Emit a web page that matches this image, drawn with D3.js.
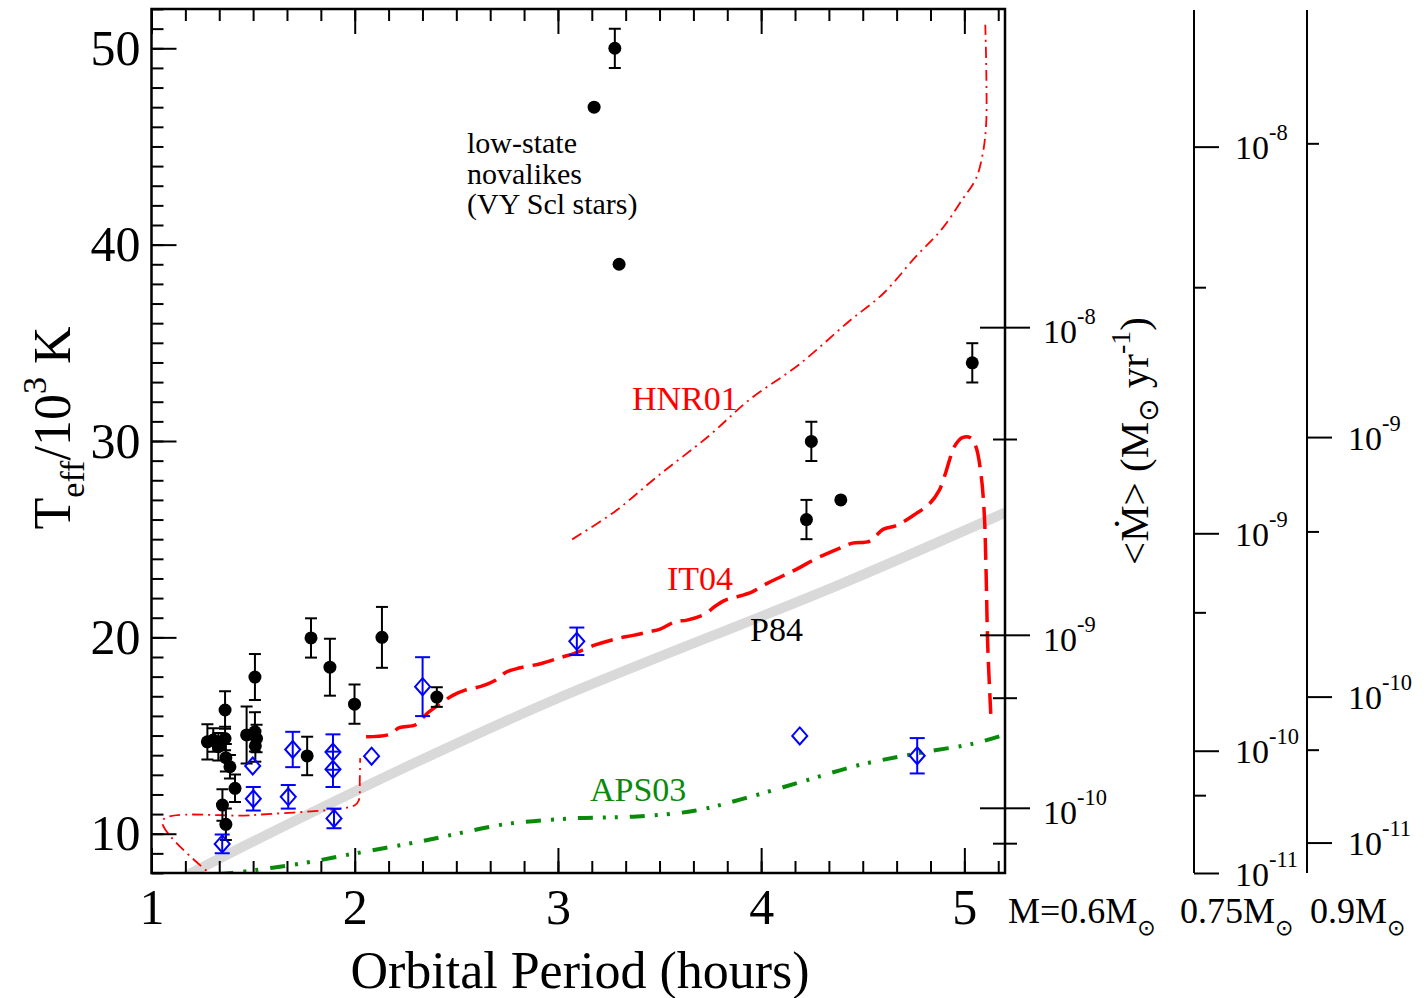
<!DOCTYPE html>
<html>
<head>
<meta charset="utf-8">
<script src="https://cdn.jsdelivr.net/npm/d3@7"></script>
<style>
  body { margin: 0; background: #fff; }
  svg { display: block; }
  text { font-family: "Liberation Serif", "Times New Roman", serif; fill: #000; }
</style>
</head>
<body>
<svg width="1427" height="998"></svg>
<script>
let width = 1427, height = 998;

// ---- data: [orbital period (h), Teff (10^3 K), error]
const blackPts = [
  [1.275, 14.68, 0.9], [1.304, 14.77, 0.6], [1.329, 14.43, 0.7], [1.362, 14.85, 0.6],
  [1.362, 16.3, 0.95], [1.366, 13.87, 0.7], [1.386, 13.41, 0.6], [1.411, 12.31, 0.7],
  [1.349, 11.46, 0.8], [1.366, 10.48, 0.8], [1.468, 15.03, 1.45], [1.509, 17.98, 1.17],
  [1.509, 15.19, 1.0], [1.517, 14.85, 0.7], [1.511, 14.47, 0.8], [1.766, 13.96, 0.98],
  [1.785, 19.97, 1.0], [1.878, 18.48, 1.45], [1.999, 16.6, 1.0], [2.134, 20.0, 1.55],
  [2.404, 16.96, 0.5], [3.178, 47.0, 0], [3.28, 50.0, 1.0], [3.301, 39.0, 0],
  [4.223, 26.0, 1.0], [4.247, 29.98, 1.0], [4.392, 27.0, 0], [5.039, 33.98, 1.0]
];
const bluePts = [
  [1.348, 9.48, 0.48], [1.498, 13.45, 0], [1.501, 11.78, 0.6], [1.673, 11.88, 0.6],
  [1.695, 14.29, 0.9], [1.893, 14.16, 0.9], [1.893, 13.28, 0.9], [1.898, 10.78, 0.5],
  [2.083, 13.95, 0], [2.334, 17.49, 1.5], [3.093, 19.8, 0.7], [4.19, 14.98, 0],
  [4.768, 13.97, 0.9]
];

// model curves [period, Teff]
const p84 = [[1.16, 7.8], [1.5, 9.6], [2.315, 13.7], [3.0, 16.9], [4.389, 22.7], [5.2, 26.35]];
const it04 = [
  [2.056, 14.94], [2.17, 15.05], [2.22, 15.4], [2.30, 15.55], [2.353, 16.1], [2.39, 16.4],
  [2.485, 17.06], [2.54, 17.3], [2.617, 17.49], [2.69, 17.8], [2.749, 18.25], [2.815, 18.45],
  [2.919, 18.67], [3.013, 18.97], [3.088, 19.21], [3.18, 19.6], [3.296, 19.95], [3.37, 20.1],
  [3.446, 20.28], [3.503, 20.42], [3.578, 20.8], [3.635, 20.88], [3.73, 21.22], [3.77, 21.56],
  [3.824, 21.9], [3.88, 22.06], [3.956, 22.32], [4.03, 22.75], [4.1, 23.1], [4.18, 23.5],
  [4.268, 24.0], [4.40, 24.6], [4.45, 24.8], [4.535, 24.9], [4.6, 25.5], [4.666, 25.7],
  [4.762, 26.3], [4.828, 26.8], [4.877, 27.5], [4.91, 28.45], [4.926, 29.0], [4.95, 29.7],
  [4.99, 30.17], [5.03, 30.17], [5.057, 29.7], [5.082, 28.3], [5.098, 26.3], [5.107, 23.3],
  [5.115, 19.6], [5.13, 16.1]
];
const hnr01Low = [[1.33, 7.6], [1.054, 10.65], [1.5, 10.95], [2.0, 11.45], [2.02, 11.7], [2.025, 12.8], [2.027, 13.85]];
const hnr01High = [
  [3.07, 24.99], [3.284, 26.44], [3.498, 28.27], [3.744, 30.27], [3.941, 32.09], [4.187, 33.9],
  [4.433, 36.1], [4.6, 37.5], [4.762, 39.4], [4.89, 40.8], [4.99, 42.3], [5.057, 43.36],
  [5.09, 44.6], [5.107, 46.1], [5.108, 48.8], [5.103, 51.2]
];
const aps03 = [
  [1.33, 7.95], [1.396, 8.0], [1.757, 8.52], [2.003, 9.0], [2.315, 9.59], [2.504, 10.0],
  [2.749, 10.5], [3.069, 10.78], [3.371, 10.87], [3.672, 11.17], [3.918, 11.8], [4.2, 12.65],
  [4.483, 13.5], [4.766, 14.09], [5.049, 14.6], [5.2, 15.05]
];

// tick labels
const periodLabels = [1, 2, 3, 4, 5];
const teffLabels = [10, 20, 30, 40, 50];

// right-hand accretion-rate axes
const massLabels = ["M=0.6M", "0.75M", "0.9M"];
const teffAtMdot9 = [20.13, 25.3, 30.2]; // Teff where <Mdot> = 1e-9 on each axis
const mdotMajor = [[1e-8, 1e-9, 1e-10], [1e-8, 1e-9, 1e-10, 1e-11], [1e-9, 1e-10, 1e-11]];
const mdotMinor = [[5e-9, 5e-10, 5e-11], [5e-9, 5e-10, 5e-11], [5e-9, 5e-10, 5e-11]];

const svg = d3.select("svg");

let x = d3.scaleLinear().domain([1, 5.2]).range([151.5, 1005]);
let y = d3.scaleLinear().domain([8, 52]).range([873, 9]);

svg.append("defs").append("clipPath").attr("id", "clip")
  .append("rect")
  .attr("x", x(1)).attr("y", y(52))
  .attr("width", x(5.2) - x(1)).attr("height", y(8) - y(52));

const plot = svg.append("g").attr("clip-path", "url(#clip)");

let smooth = d3.line().x(d => x(d[0])).y(d => y(d[1])).curve(d3.curveCatmullRom.alpha(0.5));

// P84 grey band
plot.append("path").attr("d", smooth(p84))
  .attr("fill", "none").attr("stroke", "#d9d9d9").attr("stroke-width", 10);

// APS03
plot.append("path").attr("d", smooth(aps03))
  .attr("fill", "none").attr("stroke", "#0a8a0a").attr("stroke-width", 4)
  .attr("stroke-dasharray", "15,10,3,9,3,12");

// HNR01
[hnr01Low, hnr01High].forEach(c => {
  plot.append("path").attr("d", smooth(c))
    .attr("fill", "none").attr("stroke", "#ff0000").attr("stroke-width", 1.8)
    .attr("stroke-dasharray", "11,5,2,5");
});

// IT04
plot.append("path").attr("d", smooth(it04))
  .attr("fill", "none").attr("stroke", "#ff0000").attr("stroke-width", 3.5)
  .attr("stroke-dasharray", "22,9");

// error bars
function errorBars(data, color, cap) {
  let g = plot.append("g").attr("stroke", color).attr("stroke-width", 2);
  let e = data.filter(d => d[2] > 0);
  g.selectAll(".v").data(e).join("line")
    .attr("x1", d => x(d[0])).attr("x2", d => x(d[0]))
    .attr("y1", d => y(d[1] - d[2])).attr("y2", d => y(d[1] + d[2]));
  [1, -1].forEach(s => {
    g.selectAll(".c" + s).data(e).join("line")
      .attr("x1", d => x(d[0]) - cap).attr("x2", d => x(d[0]) + cap)
      .attr("y1", d => y(d[1] + s * d[2])).attr("y2", d => y(d[1] + s * d[2]));
  });
}
errorBars(blackPts, "#000", 6);
errorBars(bluePts, "#0000ff", 7.5);

// blue diamonds
plot.append("g").selectAll("path").data(bluePts).join("path")
  .attr("d", d => {
    let cx = x(d[0]), cy = y(d[1]);
    return `M${cx},${cy - 8.5}L${cx + 7.5},${cy}L${cx},${cy + 8.5}L${cx - 7.5},${cy}Z`;
  })
  .attr("fill", "none").attr("stroke", "#0000ff").attr("stroke-width", 2);

// black circles
plot.append("g").selectAll("circle").data(blackPts).join("circle")
  .attr("cx", d => x(d[0])).attr("cy", d => y(d[1])).attr("r", 6.5)
  .attr("fill", "#000");

// ---- axes
function clean(g) { g.select(".domain").remove(); g.selectAll(".tick line").attr("stroke-width", 2); }

const periodMinor = d3.range(0, 26).map(k => 1 + k / 6);
const teffMinor = d3.range(8, 53);

svg.append("g").attr("transform", `translate(0,${y(8)})`)
  .call(d3.axisTop(x).tickValues(periodMinor).tickSize(12).tickFormat("")).call(clean);
svg.append("g").attr("transform", `translate(0,${y(8)})`)
  .call(d3.axisTop(x).tickValues(periodLabels).tickSize(25).tickFormat("")).call(clean);
svg.append("g").attr("transform", `translate(0,${y(52)})`)
  .call(d3.axisBottom(x).tickValues(periodMinor).tickSize(12).tickFormat("")).call(clean);
svg.append("g").attr("transform", `translate(0,${y(52)})`)
  .call(d3.axisBottom(x).tickValues(periodLabels).tickSize(25).tickFormat("")).call(clean);
svg.append("g").attr("transform", `translate(${x(1)},0)`)
  .call(d3.axisRight(y).tickValues(teffMinor).tickSize(12).tickFormat("")).call(clean);
svg.append("g").attr("transform", `translate(${x(1)},0)`)
  .call(d3.axisRight(y).tickValues(teffLabels).tickSize(25).tickFormat("")).call(clean);

// tick labels
svg.append("g").attr("transform", `translate(0,${y(8)})`)
  .call(d3.axisBottom(x).tickValues(periodLabels).tickSize(0).tickPadding(15).tickFormat(d3.format("d")))
  .call(g => g.select(".domain").remove())
  .selectAll("text").attr("font-size", 50).attr("font-family", null);
svg.append("g").attr("transform", `translate(${x(1)},0)`)
  .call(d3.axisLeft(y).tickValues(teffLabels).tickSize(0).tickPadding(11).tickFormat(d3.format("d")))
  .call(g => g.select(".domain").remove())
  .selectAll("text").attr("font-size", 50).attr("font-family", null);

// frame
svg.append("rect")
  .attr("x", x(1)).attr("y", y(52))
  .attr("width", x(5.2) - x(1)).attr("height", y(8) - y(52))
  .attr("fill", "none").attr("stroke", "#000").attr("stroke-width", 2.5);

// accretion-rate axes
const axisX = [x(5.2), 1194, 1307];
function expLabel(g, fs, dy) {
  g.selectAll(".tick text").each(function (d) {
    let t = d3.select(this).text(null).attr("font-size", fs).attr("font-family", null).attr("dy", dy);
    t.append("tspan").text("10");
    t.append("tspan").attr("font-size", fs * 0.66).attr("dy", "-0.85em")
      .text(Math.round(Math.log10(d)));
  });
}
teffAtMdot9.forEach((t9, i) => {
  let s = d3.scalePow().exponent(0.25).domain([0, 1e-9]).range([y(0), y(t9)]);
  let ax = axisX[i];
  if (i > 0) {
    svg.append("line").attr("x1", ax).attr("x2", ax).attr("y1", y(52) + 1).attr("y2", y(8))
      .attr("stroke", "#000").attr("stroke-width", 2);
  }
  svg.append("g").attr("transform", `translate(${ax},0)`)
    .call(d3.axisRight(s).tickValues(mdotMajor[i]).tickSize(25).tickFormat("")).call(clean);
  svg.append("g").attr("transform", `translate(${ax},0)`)
    .call(d3.axisRight(s).tickValues(mdotMinor[i]).tickSize(12).tickFormat("")).call(clean);
  if (i === 0) {
    svg.append("g").attr("transform", `translate(${ax},0)`)
      .call(d3.axisLeft(s).tickValues(mdotMajor[i]).tickSize(25).tickFormat("")).call(clean);
    svg.append("g").attr("transform", `translate(${ax},0)`)
      .call(d3.axisLeft(s).tickValues(mdotMinor[i]).tickSize(12).tickFormat("")).call(clean);
  }
  svg.append("g").attr("transform", `translate(${ax},0)`)
    .call(d3.axisRight(s).tickValues(mdotMajor[i]).tickSize(0).tickPadding(i === 0 ? 38 : 41))
    .call(g => g.select(".domain").remove())
    .call(g => expLabel(g, 34, i === 0 ? "0.45em" : "0.36em"));
});

// mass labels under the axes
const massX = [1008, 1180, 1310];
massLabels.forEach((m, i) => {
  let t = svg.append("text").attr("x", massX[i]).attr("y", 923).attr("font-size", 36);
  t.append("tspan").text(m);
  t.append("tspan").attr("font-size", 22).attr("dy", 12).attr("font-family", "DejaVu Sans").text("\u2299");
});

// axis titles
svg.append("text").attr("x", 580).attr("y", 988).attr("text-anchor", "middle")
  .attr("font-size", 52).text("Orbital Period (hours)");

let yt = svg.append("text").attr("transform", "translate(70,428) rotate(-90)")
  .attr("text-anchor", "middle").attr("font-size", 52);
yt.append("tspan").text("T");
yt.append("tspan").attr("font-size", 34).attr("dy", 14).text("eff");
yt.append("tspan").attr("dy", -14).text("/10");
yt.append("tspan").attr("font-size", 34).attr("dy", -24).text("3");
yt.append("tspan").attr("dy", 24).text(" K");

let mt = svg.append("text").attr("transform", "translate(1148,441) rotate(-90)")
  .attr("text-anchor", "middle").attr("font-size", 41);
mt.append("tspan").text("<\u1E40> (M");
mt.append("tspan").attr("font-size", 28).attr("dy", 10).attr("font-family", "DejaVu Sans").text("\u2299");
mt.append("tspan").attr("dy", -10).text(" yr");
mt.append("tspan").attr("font-size", 28).attr("dy", -18).text("-1");
mt.append("tspan").attr("dy", 18).text(")");

// annotations
const notes = svg.append("g").attr("font-size", 30);
["low-state", "novalikes", "(VY Scl stars)"].forEach((s, i) => {
  notes.append("text").attr("x", 467).attr("y", 153 + i * 30.5).text(s);
});
svg.append("text").attr("x", 632).attr("y", 410).attr("font-size", 34).style("fill", "#ff0000").text("HNR01");
svg.append("text").attr("x", 667).attr("y", 590).attr("font-size", 34).style("fill", "#ff0000").text("IT04");
svg.append("text").attr("x", 750).attr("y", 641).attr("font-size", 34).text("P84");
svg.append("text").attr("x", 590).attr("y", 801).attr("font-size", 34).style("fill", "#0a8a0a").text("APS03");
</script>
</body>
</html>
